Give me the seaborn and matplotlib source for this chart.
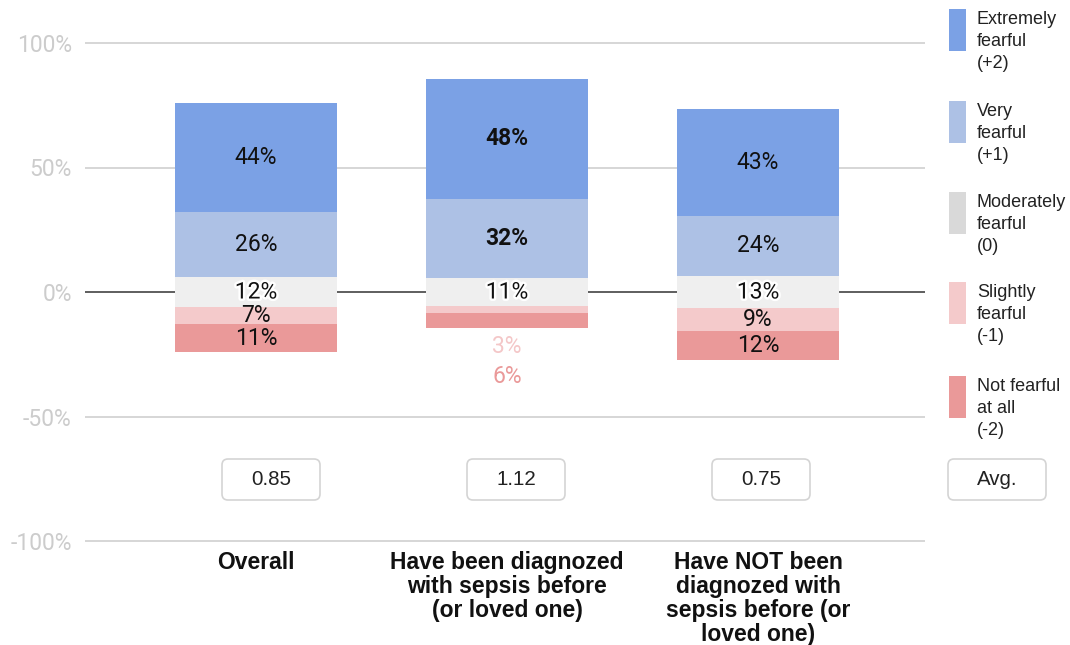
import matplotlib
matplotlib.use("Agg")
import matplotlib.pyplot as plt
import matplotlib.patheffects as pe
from matplotlib.patches import FancyBboxPatch, Rectangle
import numpy as np
import pandas as pd
import seaborn as sns

# ---- data -------------------------------------------------------------
groups = [
    "Overall",
    "Have been diagnozed\nwith sepsis before\n(or loved one)",
    "Have NOT been\ndiagnozed with\nsepsis before (or\nloved one)",
]
levels = [
    "Extremely\nfearful\n(+2)",
    "Very\nfearful\n(+1)",
    "Moderately\nfearful\n(0)",
    "Slightly\nfearful\n(-1)",
    "Not fearful\nat all\n(-2)",
]
extremely = [44, 48, 43]
very = [26, 32, 24]
moderately = [12, 11, 13]
slightly = [7, 3, 9]
not_at_all = [11, 6, 12]
averages = [0.85, 1.12, 0.75]
y_ticks = [-100, -50, 0, 50, 100]
y_tick_labels = ["-100%", "-50%", "0%", "50%", "100%"]

# ---- style ------------------------------------------------------------
sns.set_theme(style="white")
plt.rcParams["font.family"] = ["Roboto", "DejaVu Sans"]
arial_like = ["Liberation Sans", "DejaVu Sans"]

bar_colors = ["#7ba1e5", "#adc1e5", "#efefef", "#f4cacb", "#ea9999"]
legend_colors = ["#7ba1e5", "#adc1e5", "#d9d9d9", "#f4cacb", "#ea9999"]

W, H = 1070, 645
fig = plt.figure(figsize=(W / 100, H / 100), dpi=100)

# axes placed so that +/-100% land on the outer grid lines
ylim = (-102, 102)
px_per_unit = 2.49
ax_top_px = 292 - ylim[1] * px_per_unit
ax_bot_px = 292 - ylim[0] * px_per_unit
ax = fig.add_axes([85 / W, 1 - ax_bot_px / H, 840 / W, (ax_bot_px - ax_top_px) / H])

# ---- diverging stack: neutral band centred on zero --------------------
m = np.array(moderately, float)
v = np.array(very, float)
e = np.array(extremely, float)
s = np.array(slightly, float)
n = np.array(not_at_all, float)

segments = [
    (e, m / 2 + v),          # extremely fearful
    (v, m / 2),              # very fearful
    (m, -m / 2),             # moderately fearful
    (s, -m / 2 - s),         # slightly fearful
    (n, -m / 2 - s - n),     # not fearful at all
]

bar_width = 0.645
for (heights, bottoms), col in zip(segments, bar_colors):
    df = pd.DataFrame({"group": groups, "value": heights})
    sns.barplot(data=df, x="group", y="value", bottom=bottoms, color=col,
                saturation=1, width=bar_width, errorbar=None, ax=ax,
                linewidth=0, zorder=2)

# grid lines and the zero line sit behind the bars
for t in y_ticks:
    if t == 0:
        ax.axhline(t, color="#333333", lw=1.1, zorder=1)
    else:
        ax.axhline(t, color="#cccccc", lw=1.1, zorder=1)

# ---- segment labels ---------------------------------------------------
halo = [pe.withStroke(linewidth=3.5, foreground="white")]
lab_size = 16.5
for i in range(len(groups)):
    weight = "bold" if i == 1 else "normal"
    for k, (heights, bottoms) in enumerate(segments):
        h = heights[i]
        txt = f"{int(h)}%"
        if i == 1 and k >= 3:
            continue
        kw = dict(ha="center", va="center", fontsize=lab_size,
                  color="#111111", weight=weight, zorder=5)
        if k == 2:
            kw["path_effects"] = halo
            kw["weight"] = "normal"
        if k >= 3:
            kw["weight"] = "normal"
        ax.text(i, bottoms[i] + h / 2, txt, **kw)

# small segments of the second group are labelled beneath the bar
bar_floor = (-m / 2 - s - n)[1]
for k, off_px in ((3, 18), (4, 48)):
    heights, _ = segments[k]
    ax.annotate(f"{int(heights[1])}%", xy=(1, bar_floor),
                xytext=(0, -off_px * 0.72), textcoords="offset points",
                ha="center", va="center", fontsize=lab_size,
                color=bar_colors[k] if k == 4 else "#f4c7c8", zorder=5)

# ---- axes cosmetics ---------------------------------------------------
ax.set_ylim(*ylim)
ax.set_xlim((85 - 256) / 251, (925 - 256) / 251)
ax.set_yticks(y_ticks)
ax.set_yticklabels(y_tick_labels, fontsize=16.5, color="#cccccc")
ax.set_xticks(range(len(groups)))
ax.set_xticklabels(groups)
for lbl in ax.get_xticklabels():
    lbl.set_fontfamily(arial_like)
    lbl.set_fontsize(16.5)
    lbl.set_fontweight("bold")
    lbl.set_color("#111111")
    lbl.set_linespacing(1.05)
ax.tick_params(axis="y", length=0, pad=9.5)
ax.tick_params(axis="x", length=0, pad=3.5)
ax.set_xlabel("")
ax.set_ylabel("")
for sp in ax.spines.values():
    sp.set_visible(False)
ax.set_facecolor("white")

# ---- average score boxes ---------------------------------------------
box_lefts = [222, 467, 712, 948]
box_texts = [f"{a:.2f}" for a in averages] + ["Avg."]
box_w, box_h, box_top = 98, 41, 459
tr = fig.dpi_scale_trans
for x0, t in zip(box_lefts, box_texts):
    fig.add_artist(FancyBboxPatch(
        (x0 / 100, (H - box_top - box_h) / 100), box_w / 100, box_h / 100,
        boxstyle="round,pad=0,rounding_size=0.06", transform=tr,
        facecolor="white", edgecolor="#d4d4d4", lw=1.2))
    fig.text((x0 + box_w / 2) / 100, (H - box_top - box_h / 2) / 100, t,
             transform=tr, ha="center", va="center", fontsize=14.8,
             color="#222222", family=arial_like)

# ---- legend -----------------------------------------------------------
leg_tops = [9, 101, 192, 282, 376]
for top, lab, col in zip(leg_tops, levels, legend_colors):
    fig.add_artist(Rectangle((949 / 100, (H - top - 42) / 100), 17 / 100, 42 / 100,
                             transform=tr, facecolor=col, edgecolor="none"))
    fig.text(977 / 100, (H - top - 2) / 100, lab, transform=tr, ha="left",
             va="top", fontsize=13, color="#222222", linespacing=1.38,
             family=arial_like)

fig.savefig("out.png", dpi=100, facecolor="white")
